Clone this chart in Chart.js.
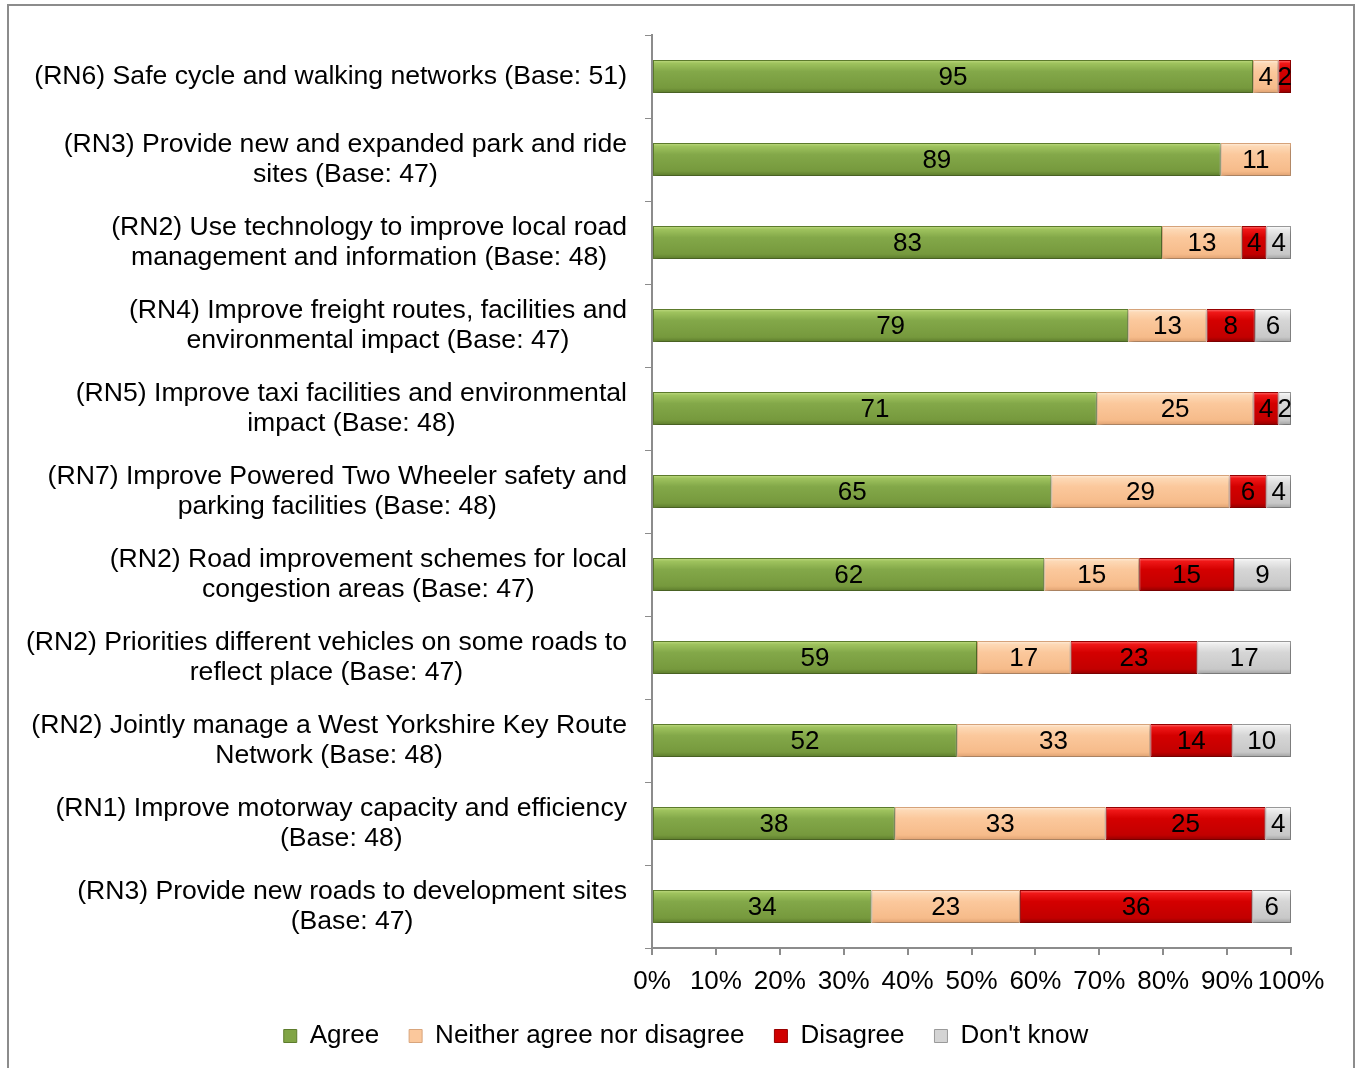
<!DOCTYPE html>
<html>
<head>
<meta charset="utf-8">
<script src="https://cdn.jsdelivr.net/npm/chart.js@4/dist/chart.umd.min.js"></script>
<style>
  html, body { margin: 0; padding: 0; background: #fff; overflow: hidden; }
  #frame {
    position: absolute; left: 7px; top: 4px;
    width: 1348px; height: 1072px;
    box-sizing: border-box;
    border: 2px solid #8c8c8c;
    background: #fff;
  }
  #wrap { position: relative; width: 1344px; height: 1068px; }
</style>
</head>
<body>
<div id="frame"><div id="wrap"><canvas id="c"></canvas></div></div>
<script>
// Survey statements, top to bottom
const categories = [
  ["(RN6) Safe cycle and walking networks (Base: 51)"],
  ["(RN3) Provide new and expanded park and ride", "sites (Base: 47)"],
  ["(RN2) Use technology to improve local road", "management and information (Base: 48)"],
  ["(RN4) Improve freight routes, facilities and", "environmental impact (Base: 47)"],
  ["(RN5) Improve taxi facilities and environmental", "impact (Base: 48)"],
  ["(RN7) Improve Powered Two Wheeler safety and", "parking facilities (Base: 48)"],
  ["(RN2) Road improvement schemes for local", "congestion areas (Base: 47)"],
  ["(RN2) Priorities different vehicles on some roads to", "reflect place (Base: 47)"],
  ["(RN2) Jointly manage a West Yorkshire Key Route", "Network (Base: 48)"],
  ["(RN1) Improve motorway capacity and efficiency", "(Base: 48)"],
  ["(RN3) Provide new roads to development sites", "(Base: 47)"]
];

// Response values per statement (labelled figures)
const agree    = [95, 89, 83, 79, 71, 65, 62, 59, 52, 38, 34];
const neither  = [ 4, 11, 13, 13, 25, 29, 15, 17, 33, 33, 23];
const disagree = [ 2,  0,  4,  8,  4,  6, 15, 23, 14, 25, 36];
const dontKnow = [ 0,  0,  4,  6,  2,  4,  9, 17, 10,  4,  6];

const seriesNames = ["Agree", "Neither agree nor disagree", "Disagree", "Don't know"];
const xTicks = [0, 10, 20, 30, 40, 50, 60, 70, 80, 90, 100];

// 100% stacked: each row is scaled to its own total
const rowTotals = agree.map((v, i) => v + neither[i] + disagree[i] + dontKnow[i]);
const share = arr => arr.map((v, i) => v / rowTotals[i] * 100);

const FONT = "'Liberation Sans', Arial, sans-serif";
const FS = 26;

// Glossy vertical gradients per series: highlight, upper, middle, lower, bottom edge
const palettes = [
  { stops: ['#c4de86', '#9fc35e', '#83a849', '#76993d', '#5b7a2b'], base: '#80a445', border: '#5d7c2d' },
  { stops: ['#fff1e2', '#fdd9b6', '#fbc89c', '#f6bb8a', '#dea070'], base: '#fbc89c', border: '#d8a57c' },
  { stops: ['#ff7a7a', '#f01818', '#d40000', '#c20000', '#900000'], base: '#d00000', border: '#980000' },
  { stops: ['#ffffff', '#ececec', '#d6d6d6', '#c8c8c8', '#a0a0a0'], base: '#d4d4d4', border: '#9a9a9a' }
];

const rawSeries = [agree, neither, disagree, dontKnow];

const datasets = rawSeries.map((arr, i) => ({
  label: seriesNames[i],
  data: share(arr),
  raw: arr,
  // scriptable so that every bar keeps its own options object
  backgroundColor: () => palettes[i].base,
  borderColor: palettes[i].border,
  borderWidth: 1,
  borderSkipped: false,
  categoryPercentage: 1.0,
  barPercentage: 0.4
}));

// Gradient fill per bar plus a soft shadow underneath
const barGloss = {
  id: 'barGloss',
  beforeDatasetsDraw(chart) {
    const c = chart.ctx;
    chart.data.datasets.forEach((ds, di) => {
      const s = palettes[di].stops;
      chart.getDatasetMeta(di).data.forEach(el => {
        const top = el.y - el.height / 2;
        const bot = el.y + el.height / 2;
        const g = c.createLinearGradient(0, top, 0, bot);
        g.addColorStop(0, s[0]);
        g.addColorStop(0.1, s[1]);
        g.addColorStop(0.35, s[2]);
        g.addColorStop(0.85, s[3]);
        g.addColorStop(1, s[4]);
        el.options.backgroundColor = g;
      });
    });
    c.save();
    c.shadowColor = 'rgba(0,0,0,0.28)';
    c.shadowBlur = 5;
    c.shadowOffsetX = 2;
    c.shadowOffsetY = 3;
  },
  afterDatasetsDraw(chart) {
    chart.ctx.restore();
  }
};

// Value labels centred on each segment
const valueLabels = {
  id: 'valueLabels',
  afterDatasetsDraw(chart) {
    const c = chart.ctx;
    c.save();
    c.font = FS + 'px ' + FONT;
    c.fillStyle = '#000';
    c.textAlign = 'center';
    c.textBaseline = 'middle';
    chart.data.datasets.forEach((ds, di) => {
      chart.getDatasetMeta(di).data.forEach((el, i) => {
        const v = ds.raw[i];
        if (!v) return;
        c.fillText(String(v), (el.x + el.base) / 2, el.y + 1);
      });
    });
    c.restore();
  }
};

// Category labels: block right-aligned to the axis, lines centred within the block
const categoryLabels = {
  id: 'categoryLabels',
  afterDraw(chart) {
    const y = chart.scales.y;
    const c = chart.ctx;
    c.save();
    c.font = '26.6px ' + FONT;
    c.fillStyle = '#000';
    c.textAlign = 'center';
    c.textBaseline = 'middle';
    const right = chart.chartArea.left - 25;
    const lh = 30;
    categories.forEach((lines, i) => {
      const cy = y.getPixelForTick(i);
      const w = Math.max(...lines.map(l => c.measureText(l).width));
      const cx = right - w / 2;
      const startY = cy - (lines.length - 1) * lh / 2;
      lines.forEach((l, k) => c.fillText(l, cx, startY + k * lh));
    });
    c.restore();
  }
};

new Chart(document.getElementById('c'), {
  type: 'bar',
  data: { labels: categories.map(l => l.join(' ')), datasets },
  options: {
    indexAxis: 'y',
    responsive: true,
    maintainAspectRatio: false,
    animation: false,
    layout: { padding: { left: 72, right: 62, top: 29, bottom: 15 } },
    scales: {
      x: {
        stacked: true,
        min: 0,
        max: 100,
        afterBuildTicks(scale) { scale.ticks = xTicks.map(v => ({ value: v })); },
        afterFit(scale) { scale.height = 45; },
        ticks: {
          callback: v => v + '%',
          color: '#000',
          font: { family: FONT, size: FS },
          padding: 11,
          maxRotation: 0,
          autoSkip: false
        },
        grid: { drawOnChartArea: false, color: '#8c8c8c', tickLength: 7, lineWidth: 2 },
        border: { color: '#8c8c8c', width: 2 }
      },
      y: {
        stacked: true,
        afterFit(scale) { scale.width = 571; },
        ticks: { display: false },
        grid: { drawOnChartArea: false, offset: true, color: '#8c8c8c', tickLength: 7, lineWidth: 1 },
        border: { color: '#8c8c8c', width: 2 }
      }
    },
    plugins: {
      tooltip: { enabled: false },
      legend: {
        position: 'bottom',
        labels: {
          font: { family: FONT, size: FS },
          color: '#000',
          boxWidth: 13,
          boxHeight: 13,
          padding: 30,
          generateLabels(chart) {
            return chart.data.datasets.map((ds, i) => ({
              text: ds.label,
              fillStyle: palettes[i].base,
              strokeStyle: palettes[i].border,
              lineWidth: 1,
              datasetIndex: i,
              hidden: false
            }));
          }
        }
      }
    }
  },
  plugins: [barGloss, valueLabels, categoryLabels]
});
</script>
</body>
</html>
